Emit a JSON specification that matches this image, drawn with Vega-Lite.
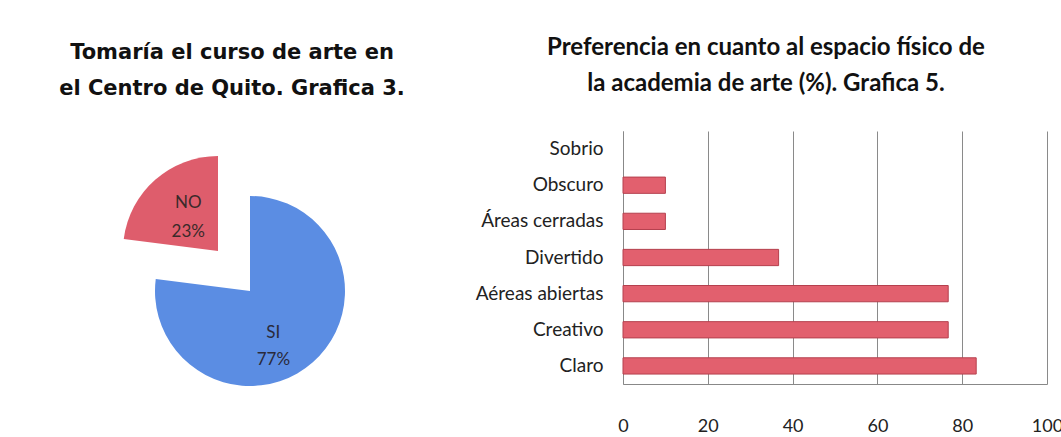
{
  "$schema": "https://vega.github.io/schema/vega-lite/v6.json",
  "padding": {"left": 50, "top": 36, "right": 0, "bottom": 0},
  "background": "white",
  "bounds": "flush",
  "spacing": 173,
  "config": {"view": {"stroke": null}, "font": "Lato"},
  "hconcat": [
    {
      "width": 400,
      "height": 320,
      "title": {
        "text": ["Tomaría el curso de arte en", "el Centro de Quito. Grafica 3."],
        "font": "DejaVu Sans",
        "fontSize": 21,
        "fontWeight": "bold",
        "lineHeight": 36,
        "dx": -18,
        "anchor": "middle",
        "baseline": "bottom",
        "offset": 11,
        "color": "#111111"
      },
      "data": {
        "values": [
          {"respuesta": "SI", "porcentaje": 77, "etiqueta": "SI\n77%"},
          {"respuesta": "NO", "porcentaje": 23, "etiqueta": "NO\n23%"}
        ]
      },
      "encoding": {
        "theta": {"field": "porcentaje", "type": "quantitative", "stack": true},
        "order": {"field": "respuesta", "sort": "descending"},
        "color": {
          "field": "respuesta",
          "type": "nominal",
          "scale": {"domain": ["SI", "NO"], "range": ["#5B8DE3", "#DE5D6C"]},
          "legend": null
        }
      },
      "layer": [
        {
          "mark": {"type": "arc", "outerRadius": 95},
          "encoding": {
            "opacity": {"condition": {"test": "datum.respuesta === 'SI'", "value": 1}, "value": 0}
          }
        },
        {
          "mark": {"type": "arc", "outerRadius": 95, "xOffset": -32, "yOffset": -40},
          "encoding": {
            "opacity": {"condition": {"test": "datum.respuesta === 'NO'", "value": 1}, "value": 0}
          }
        },
        {
          "mark": {"type": "text", "radius": 58, "dx": -15, "dy": -2, "lineBreak": "\n", "fontSize": 17, "lineHeight": 27, "font": "Lato"},
          "encoding": {
            "text": {"field": "etiqueta"},
            "color": {"value": "#2a2a3a"},
            "opacity": {"condition": {"test": "datum.respuesta === 'SI'", "value": 1}, "value": 0}
          }
        },
        {
          "mark": {"type": "text", "radius": 48, "dx": 2, "dy": -12, "xOffset": -32, "yOffset": -40, "lineBreak": "\n", "fontSize": 17, "lineHeight": 29, "font": "Lato"},
          "encoding": {
            "text": {"field": "etiqueta"},
            "color": {"value": "#3a2a2a"},
            "opacity": {"condition": {"test": "datum.respuesta === 'NO'", "value": 1}, "value": 0}
          }
        }
      ]
    },
    {
      "width": 424,
      "height": 253,
      "title": {
        "text": ["Preferencia en cuanto al espacio físico de", "la academia de arte (%). Grafica 5."],
        "font": "Lato",
        "fontSize": 24,
        "fontWeight": "bold",
        "lineHeight": 36,
        "dx": -69,
        "anchor": "middle",
        "baseline": "bottom",
        "offset": 11,
        "color": "#111111"
      },
      "data": {
        "values": [
          {"categoria": "Sobrio", "porcentaje": 0},
          {"categoria": "Obscuro", "porcentaje": 10},
          {"categoria": "Áreas cerradas", "porcentaje": 10},
          {"categoria": "Divertido", "porcentaje": 36.7},
          {"categoria": "Aéreas abiertas", "porcentaje": 76.7},
          {"categoria": "Creativo", "porcentaje": 76.7},
          {"categoria": "Claro", "porcentaje": 83.3}
        ]
      },
      "mark": {"type": "bar", "color": "#E2606E", "stroke": "#B5404E", "strokeWidth": 1},
      "encoding": {
        "strokeOpacity": {"condition": {"test": "datum.porcentaje > 0", "value": 1}, "value": 0},
        "y": {
          "field": "categoria",
          "type": "nominal",
          "sort": null,
          "scale": {"paddingInner": 0.55, "paddingOuter": 0.275},
          "axis": {
            "title": null,
            "ticks": false,
            "labelPadding": 20,
            "labelFontSize": 19,
            "labelFont": "Lato",
            "labelColor": "#222222",
            "domainColor": "#888888",
            "grid": false
          }
        },
        "x": {
          "field": "porcentaje",
          "type": "quantitative",
          "scale": {"domain": [0, 100], "nice": false},
          "axis": {
            "title": null,
            "values": [0, 20, 40, 60, 80, 100],
            "grid": true,
            "gridColor": "#8a8a8a",
            "gridOpacity": 1,
            "domainColor": "#888888",
            "ticks": false,
            "labelPadding": 33,
            "labelFontSize": 18,
            "labelFont": "Lato",
            "labelFlush": false,
            "labelColor": "#222222",
            "labelOverlap": false
          }
        }
      }
    }
  ]
}
